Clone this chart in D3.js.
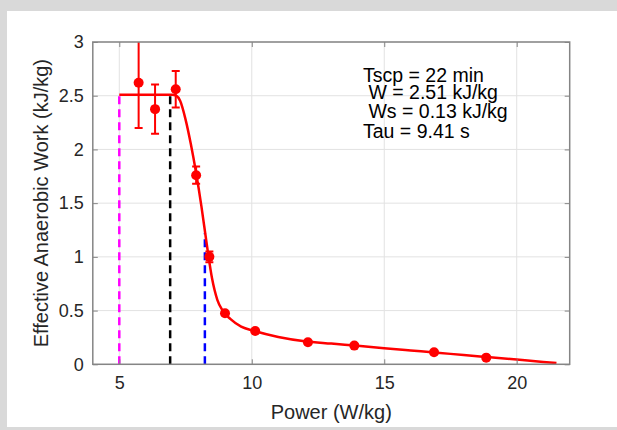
<!DOCTYPE html>
<html><head><meta charset="utf-8">
<script src="https://cdn.jsdelivr.net/npm/d3@7"></script>
<style>
html,body{margin:0;padding:0;background:#fff;}
svg{display:block;}
text{font-family:"Liberation Sans",Arial,sans-serif;}
</style></head>
<body>
<script>
// ---- data ----
const powerPts = [5.73, 6.35, 7.13, 7.90, 8.40, 8.99, 10.13, 12.12, 13.87, 16.88, 18.85];
const workPts  = [2.62, 2.375, 2.56, 1.76, 1.00, 0.475, 0.31, 0.205, 0.174, 0.112, 0.062];
const workErr  = [0.42, 0.23, 0.17, 0.08, 0.05, 0, 0, 0, 0, 0, 0];
const fitPower = [5.0, 7.0, 7.15, 7.3, 7.5, 7.7, 7.9, 8.1, 8.3, 8.5, 8.7, 8.9, 9.2, 9.6, 10.1, 11, 12, 13, 14, 15, 16, 17, 18, 19, 20, 21, 21.5];
const fitWork  = [2.51, 2.51, 2.50, 2.45, 2.28, 2.05, 1.78, 1.47, 1.12, 0.80, 0.60, 0.50, 0.42, 0.35, 0.31, 0.255, 0.215, 0.193, 0.172, 0.150, 0.129, 0.108, 0.086, 0.065, 0.044, 0.022, 0.012];
const vLinesX   = [5.0, 6.92, 8.23];
const vLinesTop = [2.51, 2.51, 1.22];
const vLinesCol = ["#ff00ff", "#000000", "#0000ff"];
const xTicks = [5, 10, 15, 20];
const yTicks = [0, 0.5, 1, 1.5, 2, 2.5, 3];
const notes = ["Tscp = 22 min", " W = 2.51 kJ/kg", " Ws = 0.13 kJ/kg", "Tau = 9.41 s"];

const W = 617, H = 430;
const L = 92.8, R = 569.7, T = 42, B = 364.3;

const svg = d3.select("body").append("svg").attr("width", W).attr("height", H);
// frame
svg.append("rect").attr("width", W).attr("height", H).attr("fill", "#d9d9d9");
svg.append("rect").attr("x", 7).attr("y", 11).attr("width", W - 7).attr("height", 427 - 11).attr("fill", "#fff");

const x = d3.scaleLinear().domain([4, 22]).range([L, R]);
const y = d3.scaleLinear().domain([0, 3]).range([B, T]);

// grid
const g = svg.append("g");
g.selectAll(".gx").data(xTicks).join("line")
  .attr("x1", d => x(d)).attr("x2", d => x(d)).attr("y1", T).attr("y2", B)
  .attr("stroke", "#e2e2e2").attr("stroke-width", 1);
g.selectAll(".gy").data(yTicks).join("line")
  .attr("y1", d => y(d)).attr("y2", d => y(d)).attr("x1", L).attr("x2", R)
  .attr("stroke", "#e2e2e2").attr("stroke-width", 1);

svg.append("clipPath").attr("id", "clip").append("rect")
  .attr("x", L).attr("y", T).attr("width", R - L).attr("height", B - T);
const plot = svg.append("g").attr("clip-path", "url(#clip)");

// dashed vertical lines
plot.selectAll(".vl").data(vLinesX).join("line")
  .attr("x1", d => x(d)).attr("x2", d => x(d))
  .attr("y1", y(0)).attr("y2", (d, i) => y(vLinesTop[i]))
  .attr("stroke", (d, i) => vLinesCol[i]).attr("stroke-width", 2.5)
  .attr("stroke-dasharray", "8,5");

// fit curve
const fit = fitPower.map((p, i) => [p, fitWork[i]]);
plot.append("path").datum(fit)
  .attr("d", d3.line().x(d => x(d[0])).y(d => y(d[1])).curve(d3.curveMonotoneX))
  .attr("fill", "none").attr("stroke", "#ff0000").attr("stroke-width", 2.5);

// error bars
const pts = powerPts.map((p, i) => ({p, w: workPts[i], e: workErr[i]}));
const eb = plot.selectAll(".eb").data(pts.filter(d => d.e > 0)).join("g");
eb.append("line").attr("x1", d => x(d.p)).attr("x2", d => x(d.p))
  .attr("y1", d => y(d.w - d.e)).attr("y2", d => y(d.w + d.e))
  .attr("stroke", "#ff0000").attr("stroke-width", 2);
eb.append("line").attr("x1", d => x(d.p) - 4).attr("x2", d => x(d.p) + 4)
  .attr("y1", d => y(d.w - d.e)).attr("y2", d => y(d.w - d.e))
  .attr("stroke", "#ff0000").attr("stroke-width", 2);
eb.append("line").attr("x1", d => x(d.p) - 4).attr("x2", d => x(d.p) + 4)
  .attr("y1", d => y(d.w + d.e)).attr("y2", d => y(d.w + d.e))
  .attr("stroke", "#ff0000").attr("stroke-width", 2);

// markers
plot.selectAll(".pt").data(pts).join("circle")
  .attr("cx", d => x(d.p)).attr("cy", d => y(d.w)).attr("r", 5)
  .attr("fill", "#ff0000");

// axes box
const axCol = "#858585";
svg.append("rect").attr("x", L).attr("y", T).attr("width", R - L).attr("height", B - T)
  .attr("fill", "none").attr("stroke", axCol).attr("stroke-width", 1.5);

const xAxisB = d3.axisBottom(x).tickValues(xTicks).tickSize(-5).tickPadding(12).tickFormat(d3.format("d"));
const gx = svg.append("g").attr("transform", `translate(0,${B})`).call(xAxisB);
const xAxisT = d3.axisTop(x).tickValues(xTicks).tickSize(-5).tickFormat("");
const gxt = svg.append("g").attr("transform", `translate(0,${T})`).call(xAxisT);
const yAxisL = d3.axisLeft(y).tickValues(yTicks).tickSize(-5).tickPadding(9).tickFormat(d => d3.format("")(d));
const gy = svg.append("g").attr("transform", `translate(${L},0)`).call(yAxisL);
const yAxisR = d3.axisRight(y).tickValues(yTicks).tickSize(-5).tickFormat("");
const gyr = svg.append("g").attr("transform", `translate(${R},0)`).call(yAxisR);
[gx, gxt, gy, gyr].forEach(a => {
  a.select(".domain").remove();
  a.selectAll(".tick line").attr("stroke", axCol).attr("stroke-width", 1);
  a.selectAll("text").attr("fill", "#262626").style("font-size", "18px")
    .style("font-family", '"Liberation Sans",Arial,sans-serif');
});

// axis labels
svg.append("text").attr("x", (L + R) / 2).attr("y", 419).attr("text-anchor", "middle")
  .attr("fill", "#262626").style("font-size", "20px").text("Power (W/kg)");
svg.append("text").attr("transform", `translate(48,${(T + B) / 2}) rotate(-90)`)
  .attr("text-anchor", "middle").attr("fill", "#262626").style("font-size", "20px")
  .text("Effective Anaerobic Work (kJ/kg)");

// annotations
const noteY = [81.7, 99, 118.3, 138];
svg.selectAll(".note").data(notes).join("text")
  .attr("x", 363).attr("y", (d, i) => noteY[i])
  .attr("fill", "#000").style("font-size", "19.5px")
  .attr("xml:space", "preserve").style("white-space", "pre")
  .text(d => d);
</script>
</body></html>
